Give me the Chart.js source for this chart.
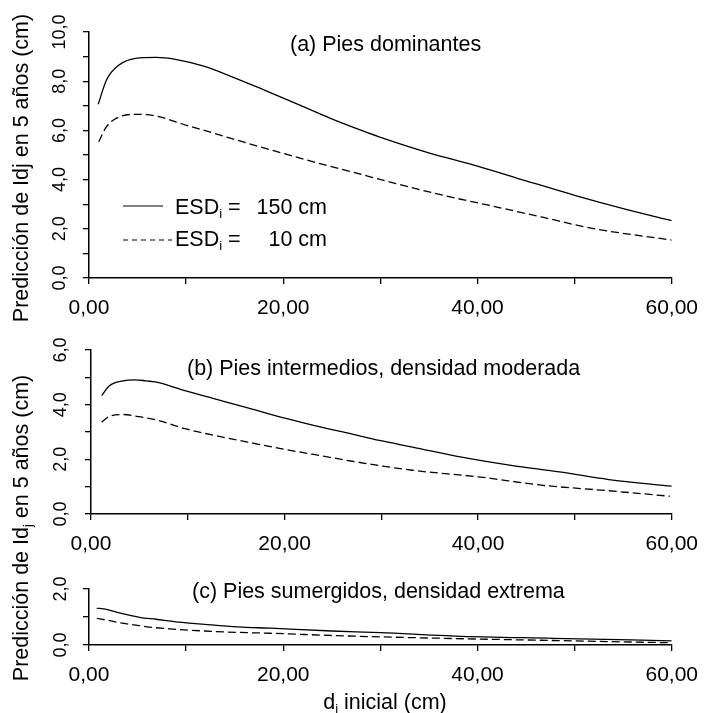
<!DOCTYPE html>
<html><head><meta charset="utf-8">
<script src="https://cdn.jsdelivr.net/npm/chart.js@4.4.0/dist/chart.umd.min.js"></script>
<style>
html,body{margin:0;padding:0;background:#fff;}
#wrap{position:relative;width:710px;height:713px;background:#fff;}
#wrap canvas{position:absolute;left:0;top:0;}
</style></head><body>
<div id="wrap">
<canvas id="ca" width="710" height="713"></canvas>
<canvas id="cb" width="710" height="713"></canvas>
<canvas id="cc" width="710" height="713"></canvas>
</div>
<script>
// ---------- data ----------
const xTickLabels = {0:'0,00', 20:'20,00', 40:'40,00', 60:'60,00'};
const yMaxA = 10, yMaxB = 6, yMaxC = 2;

const aSolidX  = [0.95,1.8,3.1,4.8,6.9,8.9,11.9,14.6,18.0,21.4,24.8,27.5,29.8,34.9,40.0,45.0,50.1,55.2,60.0];
const aSolidY  = [7.06,8.05,8.66,8.93,8.97,8.89,8.60,8.20,7.65,7.08,6.50,6.08,5.75,5.10,4.55,3.95,3.35,2.80,2.33];
const aDashX   = [1.0,1.8,2.8,4.5,5.5,7.2,9.6,12.9,16.3,19.7,23.1,27.0,31.5,36.6,41.0,46.7,51.8,60.0];
const aDashY   = [5.54,6.15,6.49,6.65,6.65,6.56,6.26,5.88,5.48,5.10,4.72,4.32,3.85,3.35,2.97,2.47,2.02,1.54];

const bSolidX  = [1.1,1.9,3.3,4.6,5.7,7.0,9.7,12.8,16.2,19.6,23.0,27.0,29.8,33.2,38.3,43.4,48.4,53.5,60.0];
const bSolidY  = [4.33,4.69,4.87,4.91,4.87,4.81,4.51,4.21,3.88,3.54,3.24,2.92,2.69,2.45,2.08,1.78,1.54,1.26,1.02];
const bDashX   = [1.1,1.9,3.3,5.0,7.0,9.7,12.8,16.2,19.6,23.0,27.0,33.2,40.0,46.7,53.5,59.8];
const bDashY   = [3.36,3.57,3.64,3.56,3.42,3.12,2.87,2.63,2.39,2.18,1.93,1.60,1.36,1.05,0.85,0.65];

const cSolidX  = [0.8,1.5,3.1,5.2,6.9,9.2,11.9,15.3,18.7,25.0,30.0,37.7,47.8,60.0];
const cSolidY  = [1.31,1.29,1.15,0.99,0.92,0.82,0.74,0.65,0.60,0.50,0.44,0.32,0.24,0.15];
const cDashX   = [0.8,1.8,3.1,5.2,6.2,8.6,11.9,15.3,18.7,25.0,30.0,37.7,47.8,60.0];
const cDashY   = [0.95,0.89,0.80,0.69,0.64,0.57,0.50,0.45,0.42,0.34,0.29,0.23,0.16,0.08];

const panelTitles = ['(a) Pies dominantes', '(b) Pies intermedios, densidad moderada', '(c) Pies sumergidos, densidad extrema'];
const legendNames = ['150 cm', '10 cm'];
const yTitleA = [{t:'Predicción de Idj en 5 años (cm)'}];
const yTitleBC = [{t:'Predicción de Id'},{t:'j',sub:true},{t:' en 5 años (cm)'}];
const xTitle = [{t:'d'},{t:'i',sub:true},{t:' inicial (cm)'}];

// ---------- helpers ----------
const FONT = "'Liberation Sans', Arial, sans-serif";
const YFONT = "'Liberation Sans Narrow', 'Liberation Sans', Arial, sans-serif";
const YW = 50, XH = 44, RIGHT = 680;

function drawParts(ctx, parts, x, y, align, size) {
  ctx.save();
  ctx.fillStyle = '#000';
  ctx.textBaseline = 'middle';
  ctx.textAlign = 'left';
  const mainF = size + 'px ' + FONT, subF = Math.round(size * 0.62) + 'px ' + FONT;
  const w = parts.map(p => { ctx.font = p.sub ? subF : mainF; return ctx.measureText(p.t).width; });
  const tot = w.reduce((a, b) => a + b, 0);
  let cx = align === 'center' ? x - tot / 2 : (align === 'right' ? x - tot : x);
  parts.forEach((p, i) => {
    ctx.font = p.sub ? subF : mainF;
    ctx.fillText(p.t, cx, y + (p.sub ? size * 0.32 : 0));
    cx += w[i];
  });
  ctx.restore();
}
function drawRotated(ctx, parts, cx, cy, size) {
  ctx.save();
  ctx.translate(cx, cy);
  ctx.rotate(-Math.PI / 2);
  drawParts(ctx, parts, 0, 0, 'center', size);
  ctx.restore();
}

function makeChart(id, cfg) {
  const series = [[cfg.sx, cfg.sy, []], [cfg.dx, cfg.dy, [8, 4]]];
  const datasets = series.map(([xs, ys, dash]) => ({
    data: xs.map((x, i) => ({x: x, y: ys[i]})),
    borderColor: '#000', borderWidth: 1.3, borderDash: dash,
    pointRadius: 0, cubicInterpolationMode: 'monotone', fill: false
  }));
  return new Chart(document.getElementById(id), {
    type: 'line',
    data: {datasets},
    options: {
      responsive: false, animation: false, devicePixelRatio: 1,
      layout: {padding: {left: cfg.left - YW, right: 710 - RIGHT, top: cfg.top, bottom: 713 - cfg.bottom - XH}},
      plugins: {legend: {display: false}, tooltip: {enabled: false}},
      scales: {
        x: {
          type: 'linear', min: 0, max: 60,
          afterFit: s => { s.height = XH; },
          ticks: {stepSize: 10, autoSkip: false, maxRotation: 0, minRotation: 0, padding: 12, color: '#000',
                  font: {family: FONT, size: 21}, callback: v => (xTickLabels[v] !== undefined ? xTickLabels[v] : '')},
          grid: {display: true, drawOnChartArea: false, drawTicks: true, tickLength: 6, color: '#000', lineWidth: 1.3},
          border: {display: true, color: '#000', width: 1.5}
        },
        y: {
          type: 'linear', min: 0, max: cfg.ymax,
          afterFit: s => { s.width = YW; },
          ticks: {stepSize: 1, autoSkip: false, minRotation: 90, maxRotation: 90, crossAlign: 'center', padding: cfg.ypad,
                  color: '#000', font: {family: YFONT, size: 18},
                  callback: v => (v % 2 === 0 ? v.toFixed(1).replace('.', ',') : '')},
          grid: {display: true, drawOnChartArea: false, drawTicks: true, tickLength: 6, color: '#000', lineWidth: 1.3},
          border: {display: true, color: '#000', width: 1.5}
        }
      }
    },
    plugins: [{id: 'extras_' + id, afterDraw: chart => cfg.draw(chart.ctx)}]
  });
}

// ---------- charts ----------
makeChart('ca', {
  sx: aSolidX, sy: aSolidY, dx: aDashX, dy: aDashY, ymax: yMaxA,
  left: 89, top: 32, bottom: 278, ypad: 5,
  draw: ctx => {
    drawParts(ctx, [{t: panelTitles[0]}], 290, 45, 'left', 21.5);
    drawRotated(ctx, yTitleA, 22, 168, 21.5);
    // legend
    ctx.save();
    ctx.strokeStyle = '#000'; ctx.lineWidth = 1.2;
    ctx.beginPath(); ctx.moveTo(123, 206); ctx.lineTo(163, 206); ctx.stroke();
    ctx.setLineDash([5, 4]);
    ctx.beginPath(); ctx.moveTo(123, 240); ctx.lineTo(172, 240); ctx.stroke();
    ctx.restore();
    drawParts(ctx, [{t: 'ESD'}, {t: 'i', sub: true}, {t: ' ='}], 175, 208, 'left', 21.5);
    drawParts(ctx, [{t: legendNames[0]}], 327, 208, 'right', 21.5);
    drawParts(ctx, [{t: 'ESD'}, {t: 'i', sub: true}, {t: ' ='}], 175, 240, 'left', 21.5);
    drawParts(ctx, [{t: legendNames[1]}], 327, 240, 'right', 21.5);
  }
});
makeChart('cb', {
  sx: bSolidX, sy: bSolidY, dx: bDashX, dy: bDashY, ymax: yMaxB,
  left: 91, top: 350, bottom: 514, ypad: 11,
  draw: ctx => {
    drawParts(ctx, [{t: panelTitles[1]}], 187, 369, 'left', 21.5);
    drawRotated(ctx, yTitleBC, 22, 528, 21.5);
  }
});
makeChart('cc', {
  sx: cSolidX, sy: cSolidY, dx: cDashX, dy: cDashY, ymax: yMaxC,
  left: 89, top: 589, bottom: 645, ypad: 9,
  draw: ctx => {
    drawParts(ctx, [{t: panelTitles[2]}], 192, 592, 'left', 21.5);
    drawParts(ctx, xTitle, 385, 703, 'center', 21.5);
  }
});
</script>
</body></html>
